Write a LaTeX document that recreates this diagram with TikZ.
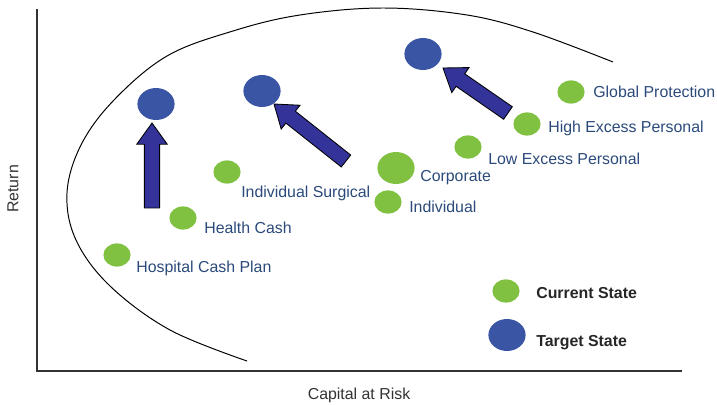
\documentclass[tikz,border=0pt]{standalone}
\usepackage{fontspec}
\setmainfont{Liberation Sans}
\usetikzlibrary{calc,shapes.geometric,positioning}

\definecolor{dotgreen}{RGB}{128,193,65}
\definecolor{dotblue}{RGB}{58,85,164}
\definecolor{arrowblue}{RGB}{51,51,153}
\definecolor{labelblue}{RGB}{43,74,122}

\tikzset{
  current/.style={ellipse,fill=dotgreen,inner sep=0pt,minimum width=0.68cm,minimum height=0.58cm},
  currentbig/.style={current,minimum width=0.93cm,minimum height=0.8cm},
  target/.style={ellipse,fill=dotblue,inner sep=0pt,minimum width=0.93cm,minimum height=0.8cm},
  lbl/.style={anchor=base west,inner sep=0pt,text=labelblue,font=\fontsize{11.3}{13}\selectfont},
  legend/.style={lbl,text=black!85,font=\fontsize{11.3}{13}\selectfont\bfseries},
  axistitle/.style={inner sep=0pt,text=black!80,font=\fontsize{11.3}{13}\selectfont},
  move/.style={fill=arrowblue,draw=black,line width=0.6pt,line join=miter}
}

% block arrow from tail #1 to tip #2
\newcommand{\blockarrow}[2]{%
  \coordinate (neck) at ($(#2)!0.53cm!(#1)$);
  \draw[move] ($(#1)!0.19cm!90:(#2)$) -- ($(neck)!0.19cm!-90:(#1)$)
    -- ($(neck)!0.38cm!-90:(#1)$) -- (#2) -- ($(neck)!0.38cm!90:(#1)$)
    -- ($(neck)!0.19cm!90:(#1)$) -- ($(#1)!0.19cm!-90:(#2)$) -- cycle;}

\begin{document}
\begin{tikzpicture}[x=0.025cm,y=-0.025cm]
  \useasboundingbox (0,0) rectangle (717,405);
  % axes
  \coordinate (top) at (37,9);
  \coordinate (origin) at (37,371);
  \coordinate (right) at (682,371);
  \draw[black!80,line width=0.9pt] (top) -- (origin) -- (right);
  \node[axistitle,rotate=90] (ret) at (13,189) {Return};
  \node[axistitle,anchor=base] (car) at (359,400) {Capital at Risk};
  % frontier
  \draw[line width=0.7pt] plot[smooth,tension=0.6] coordinates {(247,361) (170,330)
    (110,286) (76,240) (67,193) (81,145) (114,100) (167,56) (233,31) (300,15)
    (383,8) (467,15) (533,32) (613,62)};
  % current states
  \node[current] (hcp) at (117,255) {};
  \node[current] (hc) at (183,218) {};
  \node[current] (is) at (227,172) {};
  \node[current] (ind) at (388,202) {};
  \node[currentbig] (corp) at (396,168) {};
  \node[current] (lep) at (468,147) {};
  \node[current] (hep) at (527,124) {};
  \node[current] (gp) at (571,92) {};
  \node[lbl] (hcpl) at (136,273) {Hospital Cash Plan};
  \node[lbl] (hcl) at (204,234) {Health Cash};
  \node[lbl] (isl) at (241,198) {Individual Surgical};
  \node[lbl] (indl) at (409,213) {Individual};
  \node[lbl] (corpl) at (420,182) {Corporate};
  \node[lbl] (lepl) at (488,165) {Low Excess Personal};
  \node[lbl] (hepl) at (548,133) {High Excess Personal};
  \node[lbl] (gpl) at (593,98) {Global Protection};
  % target states
  \node[target] (t1) at (156,104) {};
  \node[target] (t2) at (262,91) {};
  \node[target] (t3) at (423,54) {};
  % moves
  \coordinate (tail1) at (152,208);
  \coordinate (tip1) at (152,123);
  \coordinate (tail2) at (346,161);
  \coordinate (tip2) at (274,104);
  \coordinate (tail3) at (508,113);
  \coordinate (tip3) at (443,68);
  \blockarrow{tail1}{tip1}
  \blockarrow{tail2}{tip2}
  \blockarrow{tail3}{tip3}
  % legend
  \node[current] (cur) at (506,291) {};
  \node[target] (tgt) at (507,335) {};
  \node[legend] (curl) at (536,299) {Current State};
  \node[legend] (tgtl) at (536,347) {Target State};
\end{tikzpicture}
\end{document}
